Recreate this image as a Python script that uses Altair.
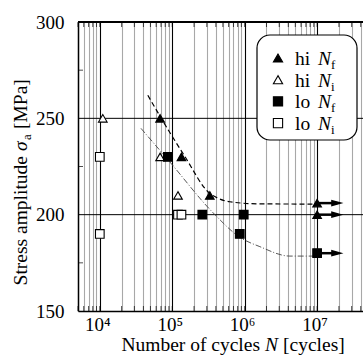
import altair as alt
import pandas as pd

FONT = "Liberation Serif"

# ---- data ----
hi_f_N = [6.8e4, 1.34e5, 3.3e5, 1e7, 1e7]
hi_f_S = [250, 230, 210, 206, 200]
hi_i_N = [1.1e4, 6.8e4, 1.2e5]
hi_i_S = [250, 230, 210]
lo_f_N = [8.7e4, 2.6e5, 9.7e5, 8.55e5, 1e7]
lo_f_S = [230, 200, 200, 190, 180]
lo_i_N = [1e4, 1e4, 1.2e5, 1.34e5]
lo_i_S = [230, 190, 200, 200]

runout_N = [1e7, 1e7, 1e7]
runout_N_end = [1.9e7, 1.9e7, 1.9e7]
runout_S = [206, 200, 180]

hi_curve_N = [4.6e4, 6.8e4, 1.45e5, 3.3e5, 4.3e5, 6.2e5, 1.6e6, 1e7]
hi_curve_S = [262, 251, 231, 211, 208.5, 206.7, 205.6, 205.5]
lo_curve_N = [3.7e4, 9.2e4, 3.66e5, 8.55e5, 1.62e6, 4.2e6, 1e7]
lo_curve_S = [244.8, 227.5, 201, 188.3, 183.4, 178.5, 178.5]

series_names = ["hi Nf", "hi Ni", "lo Nf", "lo Ni"]
legend_prefix = ["hi", "hi", "lo", "lo"]
legend_sub = ["f", "i", "f", "i"]

y_labels = [150, 200, 250, 300]
y_minor = [175, 225, 275]
y_major_grid = [200, 250]
decades = [1e4, 1e5, 1e6, 1e7]
decade_labels = ["10⁴", "10⁵", "10⁶", "10⁷"]
x_grid = ([5000, 6000, 7000, 8000, 9000]
          + [m * 10 ** e for e in (4, 5, 6) for m in range(1, 10)]
          + [1e7, 2e7, 3e7, 4e7])

# ---- tables ----
rows = []
for name, Ns, Ss in zip(series_names, [hi_f_N, hi_i_N, lo_f_N, lo_i_N],
                        [hi_f_S, hi_i_S, lo_f_S, lo_i_S]):
    for n, s in zip(Ns, Ss):
        rows.append({"series": name, "N": n, "S": s})
pts = pd.DataFrame(rows)
runout = pd.DataFrame({"N": runout_N, "N2": runout_N_end, "S": runout_S})
hi_curve = pd.DataFrame({"N": hi_curve_N, "S": hi_curve_S})
lo_curve = pd.DataFrame({"N": lo_curve_N, "S": lo_curve_S})
grid_df = pd.DataFrame({"N": x_grid})
ygrid_df = pd.DataFrame({"S": y_major_grid})
yminor_df = pd.DataFrame({"S": y_minor})
dec_df = pd.DataFrame({"N": decades, "lab": decade_labels})
one = pd.DataFrame({"k": [0]})

W, H = 285, 289
xscale = alt.Scale(type="log", domain=[5000, 4.3e7], nice=False)
yscale = alt.Scale(domain=[150, 300], nice=False, zero=False)

major_test = ("datum.value == 10000 || datum.value == 100000 || "
              "datum.value == 1000000 || datum.value == 10000000")
xaxis = alt.Axis(values=x_grid, labels=False, ticks=False, title=None,
                 grid=True,
                 gridColor={"condition": {"test": major_test, "value": "#000000"},
                            "value": "#a8a8a8"},
                 gridWidth=1.1, domainColor="black", domainWidth=1.5)
yaxis = alt.Axis(values=y_labels, ticks=False, grid=False, title=None,
                 labelFont=FONT, labelFontSize=19, labelColor="black",
                 labelPadding=14, domainColor="black", domainWidth=1.5)

X = alt.X("N:Q", scale=xscale, axis=xaxis)
Y = alt.Y("S:Q", scale=yscale, axis=yaxis)


def txt(text, x, y, size=19.5, italic=False, align="left", angle=0):
    kw = dict(text=text, font=FONT, fontSize=size, align=align,
              baseline="alphabetic", color="black")
    if italic:
        kw["fontStyle"] = "italic"
    if angle:
        kw["angle"] = angle
    return alt.Chart(one).mark_text(**kw).encode(x=alt.value(x), y=alt.value(y))


grid = alt.Chart(grid_df).mark_tick(orient="vertical", color="black",
                                    thickness=1, size=5).encode(x=X, y=alt.value(2.5))
grid_bottom = alt.Chart(grid_df).mark_tick(orient="vertical", color="black",
                                           thickness=1, size=5).encode(x=X, y=alt.value(H - 2.5))
yminor = alt.Chart(yminor_df).mark_tick(orient="horizontal", color="black",
                                        thickness=1, size=5).encode(y=Y, x=alt.value(2.5))
hgrid = alt.Chart(ygrid_df).mark_rule(color="black", strokeWidth=1).encode(y=Y)
top = alt.Chart(pd.DataFrame({"S": [300]})).mark_rule(color="black", strokeWidth=2).encode(y=Y)

hi_line = alt.Chart(hi_curve).mark_line(color="black", strokeWidth=1.2,
                                        strokeDash=[5, 3], interpolate="monotone").encode(x=X, y=Y)
lo_line = alt.Chart(lo_curve).mark_line(color="#444444", strokeWidth=0.9,
                                        strokeDash=[6, 2, 1, 2], interpolate="monotone").encode(x=X, y=Y)

shaft = alt.Chart(runout).mark_rule(color="black", strokeWidth=2.5).encode(
    x=X, x2="N2", y=Y)
head = alt.Chart(runout).mark_point(shape="M-1,-0.55L1,0L-1,0.55Z", size=150,
                                    filled=True, color="black", opacity=1).encode(
    x=alt.X("N2:Q", scale=xscale, axis=xaxis), y=Y)

shape_scale = alt.Scale(domain=series_names,
                        range=["triangle-up", "triangle-up", "square", "square"])
fill_scale = alt.Scale(domain=series_names, range=["black", "white", "black", "white"])
points = alt.Chart(pts).mark_point(filled=True, size=75, stroke="black",
                                   strokeWidth=1.1, opacity=1).encode(
    x=X, y=Y,
    shape=alt.Shape("series:N", scale=shape_scale, legend=None),
    fill=alt.Fill("series:N", scale=fill_scale, legend=None),
)

# decade tick labels 10^n
declab = alt.Chart(dec_df).mark_text(font=FONT, fontSize=19, align="center",
                                     baseline="alphabetic", dx=-2, color="black").encode(
    x=X, y=alt.value(H + 20), text="lab:N")

# axis titles built from pieces (italic symbols and subscripts)
tx_y = 329
xt = [txt("Number of cycles", 182, tx_y, align="right"),
      txt("N", 187, tx_y, italic=True),
      txt("[cycles]", 205, tx_y)]

ty_x = -51
yt = [txt("Stress amplitude", ty_x, 134, align="right", angle=270),
      txt("σ", ty_x, 129, italic=True, angle=270),
      txt("a", ty_x + 4, 118, size=13, angle=270),
      txt("[MPa]", ty_x, 107, angle=270)]

# legend
leg_box = alt.Chart(one).mark_rect(fill="white", stroke="black", strokeWidth=1.2,
                                   cornerRadius=13).encode(
    x=alt.value(179), x2=alt.value(279), y=alt.value(13), y2=alt.value(118))
leg_layers = [leg_box]
y0, dy = 36, 21.7
leg_shapes = ["triangle-up", "triangle-up", "square", "square"]
leg_fills = ["black", "white", "black", "white"]
for i in range(4):
    yy = y0 + i * dy
    leg_layers.append(alt.Chart(one).mark_point(shape=leg_shapes[i], size=85, filled=True,
                                                fill=leg_fills[i], stroke="black",
                                                strokeWidth=1.1, opacity=1).encode(
        x=alt.value(200), y=alt.value(yy)))
    leg_layers.append(txt(legend_prefix[i], 217, yy + 7))
    leg_layers.append(txt("N", 240, yy + 7, italic=True))
    leg_layers.append(txt(legend_sub[i], 253, yy + 11, size=13))

chart = alt.layer(
    grid, grid_bottom, yminor, hgrid, top, hi_line, lo_line, shaft, head, points,
    declab, *xt, *yt, *leg_layers
).properties(
    width=W, height=H,
    autosize=alt.AutoSizeParams(type="none"),
    padding={"left": 78, "top": 22, "right": 0, "bottom": 50},
    background="white",
).configure_view(stroke=None)

chart.save("out.html", embed_options={"renderer": "svg", "actions": False})
